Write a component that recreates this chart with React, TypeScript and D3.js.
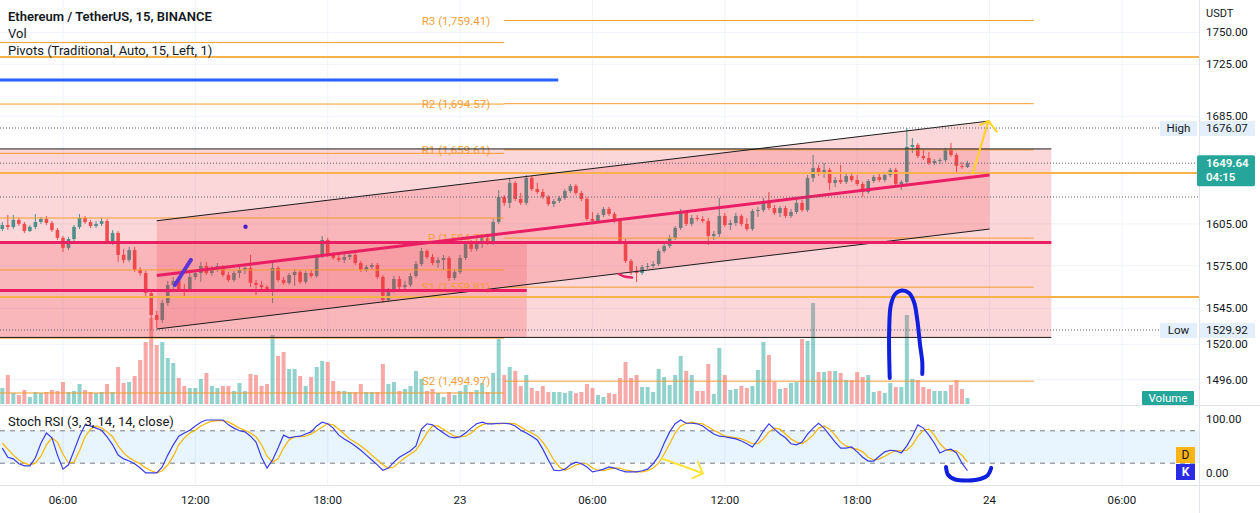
import React, { useEffect } from "react";
import * as d3 from "d3";

// ---------------- DATA (15-minute ETH/USDT bars, 22 Jun 03:15 -> 23 Jun 23:00) ----------------
const OPEN = [1601.3,1604.2,1602.8,1607.9,1605.0,1599.9,1602.8,1606.4,1608.6,1605.7,
1600.6,1594.9,1587.7,1594.1,1602.8,1609.3,1606.4,1603.5,1605.0,1607.1,
1592.0,1598.5,1582.7,1579.1,1586.2,1572.0,1569.8,1555.7,1540.3,1536.9,
1548.7,1561.4,1564.2,1558.5,1557.8,1567.0,1569.8,1574.8,1569.8,1572.7,
1574.8,1568.4,1564.9,1569.8,1572.0,1573.4,1562.8,1561.4,1559.9,1557.8,
1573.4,1564.9,1562.8,1568.4,1570.6,1563.5,1569.8,1567.7,1581.9,1593.4,
1582.7,1580.5,1579.1,1581.2,1582.7,1576.9,1572.0,1574.1,1575.5,1567.0,
1550.8,1557.1,1565.6,1559.9,1561.4,1567.7,1576.2,1585.5,1581.2,1576.9,
1579.1,1580.5,1566.3,1570.6,1580.5,1590.5,1587.0,1592.7,1594.9,1592.0,
1606.4,1624.65,1620.3,1635.0,1623.2,1620.3,1638.7,1630.5,1628.3,1624.7,
1619.5,1621.7,1623.9,1629.1,1632.7,1627.6,1623.2,1608.6,1607.1,1611.5,
1615.9,1612.2,1607.1,1592.7,1578.4,1571.3,1569.8,1574.1,1574.8,1576.2,
1585.5,1589.1,1594.9,1602.1,1613.7,1605.0,1609.3,1608.6,1607.1,1596.3,
1597.7,1610.8,1604.2,1605.7,1610.8,1605.0,1601.3,1614.4,1615.1,1621.7,
1616.6,1613.0,1616.6,1610.8,1613.7,1620.3,1615.1,1638.7,1646.1,1641.6,
1644.6,1635.0,1637.2,1635.7,1640.1,1637.2,1634.2,1628.3,1636.4,1639.4,
1637.2,1640.9,1644.6,1634.2,1635.7,1661.8,1663.3,1655.0,1653.5,1649.8,
1651.3,1652.0,1659.5,1655.8,1647.6,1646.8];

const HIGH = [1606.4,1611.5,1611.5,1609.3,1606.4,1604.2,1612.2,1610.0,1610.8,1607.1,
1602.1,1596.3,1595.6,1604.2,1612.2,1610.8,1607.9,1607.1,1609.3,1608.6,
1600.6,1599.9,1587.0,1588.4,1588.4,1574.1,1571.3,1558.5,1543.1,1550.8,
1564.2,1567.0,1565.6,1562.1,1569.8,1572.0,1577.7,1577.7,1574.8,1576.9,
1575.5,1570.6,1571.3,1574.1,1575.5,1582.7,1564.9,1564.2,1561.4,1576.9,
1574.8,1567.0,1569.8,1572.7,1572.0,1571.3,1572.0,1583.4,1596.3,1594.9,
1584.8,1582.7,1583.4,1584.1,1584.1,1578.4,1575.5,1576.9,1576.9,1568.4,
1559.2,1567.7,1567.7,1564.2,1569.8,1578.4,1587.7,1587.0,1583.4,1581.2,
1582.7,1581.9,1572.7,1582.7,1592.7,1593.4,1594.9,1597.0,1597.0,1608.6,
1629.73,1626.1,1638.7,1636.4,1627.6,1640.9,1640.1,1635.0,1630.5,1626.1,
1623.2,1625.4,1630.5,1634.2,1634.2,1629.1,1624.7,1613.7,1613.0,1617.3,
1617.3,1613.7,1608.6,1594.1,1579.8,1574.8,1575.5,1576.9,1578.4,1587.0,
1591.3,1597.0,1603.5,1615.9,1615.1,1611.5,1611.5,1610.8,1609.3,1599.9,
1623.9,1613.0,1607.9,1613.0,1612.2,1609.3,1615.9,1617.3,1623.9,1628.3,
1618.8,1618.1,1618.1,1615.9,1622.5,1622.5,1640.9,1655.8,1648.3,1649.8,
1646.1,1639.4,1648.3,1642.4,1643.1,1640.9,1635.7,1637.9,1640.9,1642.4,
1642.4,1646.1,1646.1,1637.2,1676.07,1668.5,1664.8,1659.5,1658.0,1652.8,
1653.5,1661.0,1664.8,1657.3,1650.5,1651.3];

const LOW = [1599.9,1600.6,1601.3,1603.5,1598.5,1599.2,1601.3,1605.0,1604.2,1599.2,
1593.4,1584.8,1586.2,1592.7,1601.3,1605.0,1602.1,1602.1,1603.5,1590.5,
1589.8,1577.7,1576.9,1577.7,1570.6,1567.7,1553.6,1529.92,1531.3,1534.8,
1546.6,1557.8,1556.4,1552.9,1556.4,1564.9,1563.5,1568.4,1567.7,1570.6,
1567.0,1563.5,1563.5,1566.3,1569.1,1559.9,1554.3,1558.5,1556.4,1548.7,
1563.5,1561.4,1561.4,1560.7,1562.1,1562.1,1566.3,1566.3,1580.5,1581.2,
1579.1,1577.7,1576.9,1579.1,1575.5,1570.6,1570.6,1572.0,1565.6,1548.7,
1549.4,1555.7,1557.8,1557.8,1559.9,1566.3,1574.8,1579.8,1575.5,1573.4,
1572.0,1564.2,1564.9,1569.1,1579.1,1584.8,1585.5,1587.7,1589.8,1589.8,
1605.0,1618.1,1616.6,1621.7,1618.8,1618.8,1629.1,1626.9,1623.2,1618.1,
1617.3,1620.3,1622.5,1627.6,1626.1,1621.7,1607.1,1605.7,1606.4,1610.0,
1610.8,1605.7,1591.3,1576.9,1568.4,1563.5,1568.4,1572.7,1573.4,1574.8,
1584.1,1587.7,1593.4,1600.6,1603.5,1603.5,1607.1,1605.7,1589.8,1593.4,
1595.6,1602.8,1600.6,1603.5,1603.5,1599.9,1599.9,1610.0,1613.7,1615.1,
1611.5,1610.0,1609.3,1609.3,1612.2,1613.7,1613.7,1635.7,1640.1,1638.7,
1629.8,1632.0,1634.2,1634.2,1635.7,1632.7,1624.7,1626.9,1635.0,1635.7,
1635.7,1639.4,1632.7,1629.8,1633.5,1657.3,1653.5,1652.0,1648.3,1648.3,
1649.0,1650.5,1654.3,1642.4,1645.3,1646.1];

const CLOSE = [1604.2,1602.8,1607.9,1605.0,1599.9,1602.8,1606.4,1608.6,1605.7,1600.6,
1594.9,1587.7,1594.1,1602.8,1609.3,1606.4,1603.5,1605.0,1607.1,1592.0,
1598.5,1582.7,1579.1,1586.2,1572.0,1569.8,1555.7,1540.3,1536.9,1548.7,
1561.4,1564.2,1558.5,1557.8,1567.0,1569.8,1574.8,1569.8,1572.7,1574.8,
1568.4,1564.9,1569.8,1572.0,1573.4,1562.8,1561.4,1559.9,1557.8,1573.4,
1564.9,1562.8,1568.4,1570.6,1563.5,1569.8,1567.7,1581.9,1593.4,1582.7,
1580.5,1579.1,1581.2,1582.7,1576.9,1572.0,1574.1,1575.5,1567.0,1550.8,
1557.1,1565.6,1559.9,1561.4,1567.7,1576.2,1585.5,1581.2,1576.9,1579.1,
1580.5,1566.3,1570.6,1580.5,1590.5,1587.0,1592.7,1594.9,1592.0,1606.4,
1624.65,1620.3,1635.0,1623.2,1620.3,1638.7,1630.5,1628.3,1624.7,1619.5,
1621.7,1623.9,1629.1,1632.7,1627.6,1623.2,1608.6,1607.1,1611.5,1615.9,
1612.2,1607.1,1592.7,1578.4,1571.3,1569.8,1574.1,1574.8,1576.2,1585.5,
1589.1,1594.9,1602.1,1613.7,1605.0,1609.3,1608.6,1607.1,1596.3,1597.7,
1610.8,1604.2,1605.7,1610.8,1605.0,1601.3,1614.4,1615.1,1621.7,1616.6,
1613.0,1616.6,1610.8,1613.7,1620.3,1615.1,1638.7,1646.1,1641.6,1644.6,
1635.0,1637.2,1635.7,1640.1,1637.2,1634.2,1628.3,1636.4,1639.4,1637.2,
1640.9,1644.6,1634.2,1635.7,1661.8,1663.3,1655.0,1653.5,1649.8,1651.3,
1652.0,1659.5,1655.8,1647.6,1646.8,1649.64];

const VOLUME = [1600,2900,1100,900,1400,700,1200,1100,1200,1400,
1300,2200,1200,1300,2000,1400,1200,1100,1200,2000,
1200,3700,2100,2200,2800,4400,6200,8600,5900,6200,
4600,4100,2600,1800,1600,1600,2500,3100,1800,1600,
1800,1800,1300,2100,1300,3000,2900,1800,2000,6900,
4800,5200,3500,3500,2800,1800,2700,3700,4300,4200,
2300,1300,1300,1200,1200,2000,1200,1200,1200,4000,
2000,2200,1300,1500,1800,3300,2500,1300,1500,1100,
700,1200,900,1300,1900,1200,1400,2100,1200,3100,
6500,2900,3700,3300,1800,2900,1600,1300,1800,1200,
1200,1200,1100,1300,1100,1200,2000,1600,900,700,
1100,1000,2600,4200,2600,2900,1700,1700,1200,3500,
2700,1900,2900,4800,3300,2900,1300,1300,4000,1000,
5600,2900,1400,1500,1800,1600,1800,3400,6200,4900,
2200,1500,1600,2100,2200,6500,6300,10100,3200,3200,
3300,3300,3100,2400,2400,3200,2700,2900,1200,1300,
1100,2100,1700,1700,8900,2500,2400,1700,1500,1300,
1300,1300,1900,2400,1500,600];

const STOCH_K = [48,31,28,19,15,15,30,57,76,67,
35,9,17,43,70,91,89,85,81,69,
54,35,28,24,19,11,2,2,2,13,
35,54,70,76,81,89,96,100,100,100,
100,91,85,80,78,70,59,31,11,26,
48,72,67,69,70,74,78,89,96,93,
85,72,65,59,52,44,35,26,17,7,
11,22,31,37,43,52,83,93,91,83,
76,69,67,69,76,85,93,96,93,93,
94,94,93,89,81,76,70,63,46,26,
7,6,9,17,22,19,13,4,6,9,
13,11,7,4,4,4,6,9,19,33,
57,78,93,100,94,94,93,89,81,74,
70,69,67,65,61,56,50,63,80,93,
83,74,67,56,54,59,74,85,94,85,
72,59,48,48,50,41,31,24,24,33,
41,44,43,39,52,70,91,85,72,57,
39,44,46,39,20,6];

const STOCH_D = [57,46,35,26,20,17,20,33,54,67,
59,37,20,22,43,69,83,89,85,78,
69,52,39,30,24,19,11,6,2,6,
17,33,54,67,76,81,89,94,98,99,
99,96,91,85,81,76,69,54,33,22,
28,48,63,69,69,70,74,80,87,93,
91,83,74,65,59,52,44,35,26,17,
11,13,22,30,37,44,59,76,89,89,
83,76,70,69,70,76,85,91,94,94,
93,94,94,93,87,81,76,70,59,44,
26,13,7,11,17,19,19,11,7,6,
9,11,11,7,6,4,4,6,11,20,
37,56,76,89,94,96,94,93,87,81,
76,70,69,67,65,61,56,56,65,78,
85,83,74,65,59,56,63,72,85,89,
83,72,59,52,48,46,41,31,26,28,
33,39,43,43,44,54,70,81,83,72,
56,46,43,43,35,22];

const TIME_TICK_BARS = [11, 35, 59, 83, 107, 131, 155, 179, 203];
const TIME_TICK_LABELS = ["06:00", "12:00", "18:00", "23", "06:00", "12:00", "18:00", "24", "06:00"];
const PRICE_TICKS = [1750, 1725, 1685, 1605, 1575, 1545, 1520, 1496];
const STOCH_TICKS = [100, 0];
const STOCH_BANDS = [80, 20];

const PIVOT_NAMES = ["R3", "R2", "R1", "P", "S1", "S2"];
const PIVOT_CURRENT = [1759.41, 1694.57, 1659.61, 1594.77, 1559.81, 1494.97];
const PIVOT_PREVIOUS = [1742.0, 1694.3, 1657.0, 1609.3, 1572.0, 1524.3, 1487.0];
const PIVOT_DAY_START = 91;
const PIVOT_DAY_END = 187;

const USER_HLINES = [1730.7, 1642.4, 1552.9];
const SESSION_HIGH = 1676.07;
const SESSION_LOW = 1529.92;
const LAST_PRICE = 1649.64;
const PREV_DAY_CLOSE = 1624.65;

// drawings in (bar index, price)
const RECTANGLES = [
  { from: -5, to: 190.2, top: 1660.3, bottom: 1524.8 },
  { from: -5, to: 95.1, top: 1592.0, bottom: 1524.8 },
];
const CHANNEL = { from: 28, to: 179, top: [1607.3, 1681.4], bottom: [1530.6, 1601.3], mid: [1568.1, 1640.9] };
const BLACK_SEGMENTS = [
  { from: -5, to: 190.2, price: 1660.3 },
  { from: -5, to: 190.2, price: 1524.8 },
  { from: -5, to: 95.1, price: 1592.0 },
];
const CRIMSON_SEGMENTS = [
  { from: -5, to: 190.2, price: 1591.6 },
  { from: -5, to: 95.1, price: 1557.5 },
];
const BLUE_SEGMENT = { from: -5, to: 100.8, price: 1712.8 };

const VIOLET_STROKE = [[31.3, 1561.3], [32.7, 1570.0], [34.2, 1579.1]];
const VIOLET_DOT = [44.1, 1603.0];
const CRIMSON_MARK = [[111.8, 1569.1], [112.7, 1567.4], [114.2, 1566.6]];
const YELLOW_ARROW_SHAFT = [[175.96, 1642.1], [178.8, 1681.4]];
const YELLOW_ARROW_HEAD = [[177.3, 1678.3], [178.8, 1681.4], [180.3, 1673.3]];
const BLUE_LOOP = [[160.9, 1497.1], [160.8, 1512.7], [160.8, 1529.9], [161.1, 1547.3], [161.9, 1555.0],
  [163.1, 1557.5], [164.4, 1555.7], [165.3, 1549.4], [165.9, 1536.9], [166.4, 1519.6], [166.8, 1507.9], [166.8, 1499.8]];
const STOCH_ARROW_SHAFT = [[119.5, 29.1], [127.0, 1.3]];
const STOCH_ARROW_HEAD = [[126.1, 22.8], [127.0, 1.3], [125.1, -8.0]];
const STOCH_SMILE = [[171.1, 13.0], [171.5, -1.9], [172.8, -10.2], [175.1, -12.0], [177.3, -9.3], [178.7, -1.9], [179.3, 11.1]];

const FONT = "Roboto, 'Open Sans', sans-serif";
const TEXT = "#131722";
const PANE_R = 1199;
const MAIN_B = 405;
const STOCH_B = 485;

export default function App() {
  useEffect(() => {
    document.body.style.margin = "0";
  }, []);

  const x = d3.scaleLinear().domain([0, 175]).range([2.3, 967.5]);
  const y = d3.scaleLog().domain([SESSION_LOW, SESSION_HIGH]).range([330, 128]);
  const yVol = d3.scaleLinear().domain([0, d3.max(VOLUME) as number]).range([404, 303]);
  const ys = d3.scaleLinear().domain([0, 100]).range([474, 420]);

  const priceLine = d3.line<number[]>().x((d) => x(d[0])).y((d) => y(d[1]));
  const penLine = d3.line<number[]>().x((d) => x(d[0])).y((d) => y(d[1])).curve(d3.curveCatmullRom.alpha(0.5));
  const stochPen = d3.line<number[]>().x((d) => x(d[0])).y((d) => ys(d[1])).curve(d3.curveCatmullRom.alpha(0.5));
  const stochStraight = d3.line<number[]>().x((d) => x(d[0])).y((d) => ys(d[1]));
  const kLine = d3.line<number>().x((_, i) => x(i)).y((d) => ys(d));

  const fill = "rgba(242,54,69,0.2)";
  const up = "#26a69a";
  const down = "#ef5350";

  const chanPoly = [
    [x(CHANNEL.from), y(CHANNEL.top[0])],
    [x(CHANNEL.to), y(CHANNEL.top[1])],
    [x(CHANNEL.to), y(CHANNEL.bottom[1])],
    [x(CHANNEL.from), y(CHANNEL.bottom[0])],
  ].map((p) => p.join(",")).join(" ");

  const pivotLabel = (n: string, v: number) => `${n} (${d3.format(",.2f")(v)})`;

  return (
    <svg width={1260} height={513} style={{ position: "fixed", left: 0, top: 0, display: "block", background: "#fff" }} fontFamily={FONT}>
      <defs>
        <clipPath id="mainClip"><rect x={0} y={0} width={PANE_R} height={MAIN_B} /></clipPath>
        <clipPath id="stochClip"><rect x={0} y={MAIN_B + 1} width={PANE_R} height={STOCH_B - MAIN_B - 1} /></clipPath>
      </defs>
      <rect x={0} y={0} width={1260} height={513} fill="#fff" />

      {/* grid */}
      {TIME_TICK_BARS.map((b, i) => (
        <line key={"vg" + i} x1={x(b)} x2={x(b)} y1={0} y2={STOCH_B} stroke="#f0f3fa" strokeWidth={1} />
      ))}
      {PRICE_TICKS.map((p, i) => (
        <line key={"hg" + i} x1={0} x2={PANE_R} y1={y(p)} y2={y(p)} stroke="#f0f3fa" strokeWidth={1} />
      ))}

      {/* main pane */}
      <g clipPath="url(#mainClip)">
        {VOLUME.map((v, i) => (
          <rect key={"v" + i} x={x(i) - 2} width={4} y={yVol(v)} height={404 - yVol(v)}
            fill={CLOSE[i] >= OPEN[i] ? "rgba(38,166,154,0.5)" : "rgba(239,83,80,0.5)"} />
        ))}
        {OPEN.map((o, i) => {
          const c = CLOSE[i];
          const col = c >= o ? up : down;
          const t = y(Math.max(o, c));
          const b = y(Math.min(o, c));
          return (
            <g key={"c" + i}>
              <line x1={x(i)} x2={x(i)} y1={y(HIGH[i])} y2={y(LOW[i])} stroke={col} strokeWidth={1} />
              <rect x={x(i) - 1.8} width={3.6} y={t} height={Math.max(1, b - t)} fill={col} />
            </g>
          );
        })}

        {/* rectangles and channel fill */}
        {RECTANGLES.map((r, i) => (
          <rect key={"r" + i} x={x(r.from)} width={x(r.to) - x(r.from)} y={y(r.top)} height={y(r.bottom) - y(r.top)} fill={fill} />
        ))}
        <polygon points={chanPoly} fill={fill} />

        {/* user horizontal lines */}
        {USER_HLINES.map((p, i) => (
          <line key={"uh" + i} x1={0} x2={PANE_R} y1={y(p)} y2={y(p)} stroke="#f7b24a" strokeWidth={2} />
        ))}

        {/* pivots */}
        {PIVOT_PREVIOUS.map((p, i) => (
          <line key={"pp" + i} x1={x(-5)} x2={x(PIVOT_DAY_START)} y1={y(p)} y2={y(p)} stroke="#f39c2b" strokeWidth={1} />
        ))}
        {PIVOT_CURRENT.map((p, i) => (
          <g key={"pc" + i}>
            <line x1={x(PIVOT_DAY_START)} x2={x(PIVOT_DAY_END)} y1={y(p)} y2={y(p)} stroke="#f39c2b" strokeWidth={1} />
            <text x={x(PIVOT_DAY_START) - 14} y={y(p)} dy="0.35em" textAnchor="end" fontSize={11.5} fill="#f5a03a">
              {pivotLabel(PIVOT_NAMES[i], p)}
            </text>
          </g>
        ))}

        {/* black lines */}
        {BLACK_SEGMENTS.map((s, i) => (
          <line key={"bs" + i} x1={x(s.from)} x2={x(s.to)} y1={y(s.price)} y2={y(s.price)} stroke="#1a1a1a" strokeWidth={1} />
        ))}
        <path d={priceLine([[CHANNEL.from, CHANNEL.top[0]], [CHANNEL.to, CHANNEL.top[1]]]) as string} stroke="#1a1a1a" strokeWidth={1} fill="none" />
        <path d={priceLine([[CHANNEL.from, CHANNEL.bottom[0]], [CHANNEL.to, CHANNEL.bottom[1]]]) as string} stroke="#1a1a1a" strokeWidth={1} fill="none" />

        {/* crimson lines */}
        {CRIMSON_SEGMENTS.map((s, i) => (
          <line key={"cs" + i} x1={x(s.from)} x2={x(s.to)} y1={y(s.price)} y2={y(s.price)} stroke="#e91e63" strokeWidth={3} />
        ))}
        <path d={priceLine([[CHANNEL.from, CHANNEL.mid[0]], [CHANNEL.to, CHANNEL.mid[1]]]) as string} stroke="#e91e63" strokeWidth={3} fill="none" />

        {/* blue line */}
        <line x1={x(BLUE_SEGMENT.from)} x2={x(BLUE_SEGMENT.to)} y1={y(BLUE_SEGMENT.price)} y2={y(BLUE_SEGMENT.price)} stroke="#2962ff" strokeWidth={3} />

        {/* dotted lines */}
        <line x1={0} x2={1160} y1={y(SESSION_HIGH)} y2={y(SESSION_HIGH)} stroke="#5d606b" strokeDasharray="1,2" />
        <line x1={0} x2={1160} y1={y(SESSION_LOW)} y2={y(SESSION_LOW)} stroke="#5d606b" strokeDasharray="1,2" />
        <line x1={0} x2={PANE_R} y1={y(PREV_DAY_CLOSE)} y2={y(PREV_DAY_CLOSE)} stroke="#5d606b" strokeDasharray="1,2" />
        <line x1={0} x2={PANE_R} y1={y(LAST_PRICE)} y2={y(LAST_PRICE)} stroke="#5d606b" strokeDasharray="1,2" />

        {/* pen drawings */}
        <path d={penLine(VIOLET_STROKE) as string} stroke="#5b35d5" strokeWidth={4} fill="none" strokeLinecap="round" />
        <circle cx={x(VIOLET_DOT[0])} cy={y(VIOLET_DOT[1])} r={2.2} fill="#4a1fc9" />
        <path d={penLine(CRIMSON_MARK) as string} stroke="#e91e63" strokeWidth={2.5} fill="none" strokeLinecap="round" />
        <path d={priceLine(YELLOW_ARROW_SHAFT) as string} stroke="#ffd21f" strokeWidth={2} fill="none" strokeLinecap="round" />
        <path d={priceLine(YELLOW_ARROW_HEAD) as string} stroke="#ffd21f" strokeWidth={2} fill="none" strokeLinecap="round" strokeLinejoin="round" />
        <path d={penLine(BLUE_LOOP) as string} stroke="#0f1fdc" strokeWidth={4} fill="none" strokeLinecap="round" />

        {/* labels inside pane */}
        <rect x={1160} y={y(SESSION_HIGH) - 7} width={37} height={15} fill="#e3effd" />
        <text x={1178.5} y={y(SESSION_HIGH)} dy="0.35em" textAnchor="middle" fontSize={11.5} fill={TEXT}>High</text>
        <rect x={1160} y={y(SESSION_LOW) - 7} width={37} height={15} fill="#e3effd" />
        <text x={1178.5} y={y(SESSION_LOW)} dy="0.35em" textAnchor="middle" fontSize={11.5} fill={TEXT}>Low</text>
        <rect x={1142} y={391} width={52} height={14} fill="#26a69a" rx={1} />
        <text x={1168} y={398} dy="0.35em" textAnchor="middle" fontSize={11.5} fill="#fff">Volume</text>
      </g>

      {/* header */}
      <text x={8} y={21} fontSize={13} fontWeight={600} fill={TEXT}>Ethereum / TetherUS, 15, BINANCE</text>
      <text x={8} y={38} fontSize={13} fill={TEXT}>Vol</text>
      <text x={8} y={55} fontSize={13} fill={TEXT}>Pivots (Traditional, Auto, 15, Left, 1)</text>

      {/* stoch pane */}
      <g clipPath="url(#stochClip)">
        <rect x={0} y={ys(STOCH_BANDS[0])} width={PANE_R} height={ys(STOCH_BANDS[1]) - ys(STOCH_BANDS[0])} fill="rgba(33,150,243,0.1)" />
        {STOCH_BANDS.map((b, i) => (
          <line key={"sb" + i} x1={0} x2={PANE_R} y1={ys(b)} y2={ys(b)} stroke="#787b86" strokeDasharray="5,5" strokeWidth={1} />
        ))}
        <path d={kLine(STOCH_D) as string} stroke="#f7b500" strokeWidth={1.2} fill="none" />
        <path d={kLine(STOCH_K) as string} stroke="#3b3be6" strokeWidth={1.2} fill="none" />
        <path d={stochStraight(STOCH_ARROW_SHAFT) as string} stroke="#ffe23a" strokeWidth={2} fill="none" strokeLinecap="round" />
        <path d={stochStraight(STOCH_ARROW_HEAD) as string} stroke="#ffe23a" strokeWidth={2} fill="none" strokeLinecap="round" strokeLinejoin="round" />
        <path d={stochPen(STOCH_SMILE) as string} stroke="#0f1fdc" strokeWidth={4} fill="none" strokeLinecap="round" />
        <rect x={1176} y={447} width={19} height={16} fill="#fbb416" />
        <text x={1185.5} y={455} dy="0.35em" textAnchor="middle" fontSize={12} fill={TEXT}>D</text>
        <rect x={1176} y={464} width={19} height={16} fill="#2b2be6" />
        <text x={1185.5} y={472} dy="0.35em" textAnchor="middle" fontSize={12} fontWeight={600} fill="#fff">K</text>
      </g>
      <text x={8} y={421} dy="0.35em" fontSize={13} fill={TEXT}>Stoch RSI (3, 3, 14, 14, close)</text>

      {/* separators and axis borders */}
      <line x1={0} x2={1260} y1={MAIN_B + 0.5} y2={MAIN_B + 0.5} stroke="#e0e3eb" />
      <line x1={0} x2={1260} y1={STOCH_B + 0.5} y2={STOCH_B + 0.5} stroke="#e0e3eb" />
      <line x1={PANE_R + 0.5} x2={PANE_R + 0.5} y1={0} y2={513} stroke="#e0e3eb" />

      {/* price axis */}
      <text x={1206} y={13} dy="0.35em" fontSize={11} fill={TEXT}>USDT</text>
      {PRICE_TICKS.map((p, i) => (
        <text key={"pt" + i} x={1206} y={y(p)} dy="0.35em" fontSize={11.5} fill={TEXT}>{p.toFixed(2)}</text>
      ))}
      <rect x={1200} y={y(SESSION_HIGH) - 7} width={55} height={15} fill="#e3effd" />
      <text x={1206} y={y(SESSION_HIGH)} dy="0.35em" fontSize={11.5} fill={TEXT}>{SESSION_HIGH.toFixed(2)}</text>
      <rect x={1200} y={y(SESSION_LOW) - 7} width={55} height={15} fill="#e3effd" />
      <text x={1206} y={y(SESSION_LOW)} dy="0.35em" fontSize={11.5} fill={TEXT}>{SESSION_LOW.toFixed(2)}</text>
      <rect x={1197} y={y(LAST_PRICE) - 8} width={58} height={31} fill="#26a69a" rx={2} />
      <text x={1206} y={y(LAST_PRICE)} dy="0.35em" fontSize={11.5} fontWeight={600} fill="#fff">{LAST_PRICE.toFixed(2)}</text>
      <text x={1206} y={y(LAST_PRICE) + 14} dy="0.35em" fontSize={11.5} fontWeight={600} fill="#fff">04:15</text>
      {STOCH_TICKS.map((v, i) => (
        <text key={"st" + i} x={1206} y={ys(v) - 1} dy="0.35em" fontSize={11.5} fill={TEXT}>{v.toFixed(2)}</text>
      ))}

      {/* time axis */}
      {TIME_TICK_BARS.map((b, i) => (
        <text key={"tt" + i} x={x(b)} y={500} dy="0.35em" textAnchor="middle" fontSize={11.5} fill={TEXT}>{TIME_TICK_LABELS[i]}</text>
      ))}
    </svg>
  );
}
